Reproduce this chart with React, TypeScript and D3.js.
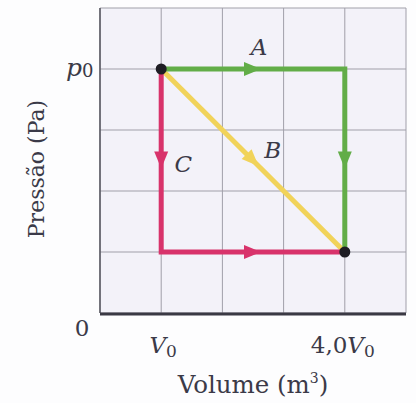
import React from "react";
import { scaleLinear, line } from "d3";

// pV diagram data (units: V0 and grid steps of pressure)
const gridSteps = [0, 1, 2, 3, 4, 5];
const volumeTicks = [1, 4];
const pathA: [number, number][] = [[1, 4], [4, 4], [4, 1]];
const pathB: [number, number][] = [[1, 4], [4, 1]];
const pathC: [number, number][] = [[1, 4], [1, 1], [4, 1]];
const endpoints: [number, number][] = [[1, 4], [4, 1]];
const pathNames = ["A", "B", "C"];
const pathLabelPos: [number, number][] = [[2.6, 4.23], [2.82, 2.54], [1.36, 2.31]];

const colA = "#62ad48";
const colB = "#f1d35a";
const colC = "#d8336b";
const ink = "#3b3a48";
const serifFont = "'DejaVu Serif', serif";

export default function App() {
  const x = scaleLinear().domain([0, 5]).range([100, 406]);
  const y = scaleLinear().domain([0, 5]).range([313, 8]);
  const lineGen = line<[number, number]>()
    .x(d => x(d[0]))
    .y(d => y(d[1]));

  // arrowheads at middle of every segment
  function arrows(pts: [number, number][], color: string) {
    const out = [];
    for (let i = 0; i < pts.length - 1; i++) {
      const x0 = x(pts[i][0]), y0 = y(pts[i][1]);
      const x1 = x(pts[i + 1][0]), y1 = y(pts[i + 1][1]);
      const mx = (x0 + x1) / 2, my = (y0 + y1) / 2;
      const ang = (Math.atan2(y1 - y0, x1 - x0) * 180) / Math.PI;
      out.push(
        <path
          key={i}
          d="M8,0 L-9,-7 L-9,7 Z"
          fill={color}
          transform={`translate(${mx},${my}) rotate(${ang})`}
        />
      );
    }
    return out;
  }

  return (
    <svg width={416} height={403} style={{ position: "absolute", left: 0, top: 0, background: "#fdfdfe" }}>
      <rect x={x(0)} y={y(5)} width={x(5) - x(0)} height={y(0) - y(5)} fill="#f3f2f9" />
      {gridSteps.map(g => (
        <line key={"v" + g} x1={x(g)} x2={x(g)} y1={y(0)} y2={y(5)} stroke="#a09fa9" strokeWidth={1} />
      ))}
      {gridSteps.map(g => (
        <line key={"h" + g} x1={x(0)} x2={x(5)} y1={y(g)} y2={y(g)} stroke="#a09fa9" strokeWidth={1} />
      ))}
      <line x1={x(0)} x2={x(0)} y1={y(0)} y2={y(5)} stroke="#55545e" strokeWidth={1.5} />
      <line x1={x(0)} x2={x(5)} y1={y(0) + 1} y2={y(0) + 1} stroke="#3a3944" strokeWidth={3} />

      <path d={lineGen(pathB) || ""} fill="none" stroke={colB} strokeWidth={5} />
      <path d={lineGen(pathA) || ""} fill="none" stroke={colA} strokeWidth={5} strokeLinejoin="miter" />
      <path d={lineGen(pathC) || ""} fill="none" stroke={colC} strokeWidth={5} strokeLinejoin="miter" />
      {arrows(pathA, colA)}
      {arrows(pathB, colB)}
      {arrows(pathC, colC)}
      {endpoints.map((p, i) => (
        <circle key={i} cx={x(p[0])} cy={y(p[1])} r={5.5} fill="#1e1d24" />
      ))}

      <g fontFamily={serifFont} fill={ink}>
        {pathNames.map((n, i) => (
          <text key={n} x={x(pathLabelPos[i][0])} y={y(pathLabelPos[i][1])} fontSize={23} fontStyle="italic" textAnchor="middle">
            {n}
          </text>
        ))}
        <text x={66} y={y(4) + 7} fontSize={25}>
          <tspan fontStyle="italic">p</tspan>
          <tspan fontSize={18} dy={1}>0</tspan>
        </text>
        <text x={82} y={336} fontSize={23} textAnchor="middle">0</text>
        {volumeTicks.map((t, i) => (
          <text key={t} x={x(t) + (i === 1 ? -2 : 2)} y={353} fontSize={23} textAnchor="middle">
            {i === 1 ? <tspan>4,0</tspan> : null}
            <tspan fontStyle="italic">V</tspan>
            <tspan fontSize={17} dy={4}>0</tspan>
          </text>
        ))}
        <text x={253} y={393} fontSize={24.5} textAnchor="middle">
          Volume (m<tspan fontSize={14} dy={-10}>3</tspan>
          <tspan dy={10}>)</tspan>
        </text>
        <text transform={`translate(44,169) rotate(-90)`} fontSize={22} textAnchor="middle">
          Pressão (Pa)
        </text>
      </g>
    </svg>
  );
}
